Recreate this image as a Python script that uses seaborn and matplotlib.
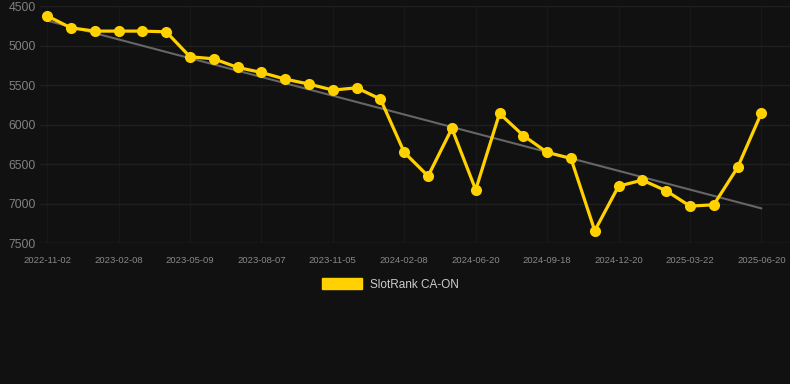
import numpy as np
import pandas as pd
import seaborn as sns
import matplotlib.pyplot as plt
from matplotlib.patches import Patch

# rank values, one per observation (lower is better, axis inverted)
ranks = [4623, 4775, 4816, 4816, 4816, 4825, 5141, 5167, 5276, 5340,
         5424, 5487, 5563, 5534, 5677, 6352, 6652, 6049, 6825, 5859,
         6138, 6352, 6428, 7344, 6779, 6703, 6838, 7032, 7015, 6542,
         5851]
tick_labels = ['2022-11-02', '2023-02-08', '2023-05-09', '2023-08-07', '2023-11-05',
               '2024-02-08', '2024-06-20', '2024-09-18', '2024-12-20', '2025-03-22',
               '2025-06-20']
series_name = 'SlotRank CA-ON'

bg = '#111111'
yellow = '#FFD100'

df = pd.DataFrame({'idx': np.arange(len(ranks)), 'rank': ranks})

# linear trend
coef = np.polyfit(df['idx'], df['rank'], 1)
df['trend'] = np.polyval(coef, df['idx'])

sns.set_style('dark')
plt.rcParams['font.family'] = ['Liberation Sans', 'DejaVu Sans']

fig = plt.figure(figsize=(7.9, 3.84), dpi=100, facecolor=bg)
ax = fig.add_axes([0.0506, 0.367, 0.9494, 0.617], facecolor=bg)

sns.lineplot(data=df, x='idx', y='trend', color='#666666', linewidth=1.5, ax=ax)
sns.lineplot(data=df, x='idx', y='rank', color=yellow, linewidth=2.3,
             marker='o', markersize=8, markeredgewidth=0, ax=ax)

ax.set_ylim(7500, 4500)
ax.set_xlim(-0.3, 31.2)
ax.set_yticks([4500, 5000, 5500, 6000, 6500, 7000, 7500])
ax.set_xticks(np.arange(0, len(ranks), 3))
ax.set_xticklabels(tick_labels)
ax.set_xlabel('')
ax.set_ylabel('')

ax.grid(False)
ax.grid(True, axis='y', color='#1f1f1f', linewidth=1)
ax.grid(True, axis='x', color='#181818', linewidth=1)
for s in ax.spines.values():
    s.set_visible(False)
ax.axhline(7500, color='#2a2a2a', linewidth=1)

ax.tick_params(axis='y', colors='#808080', labelsize=8.8, length=0, pad=3)
ax.tick_params(axis='x', colors='#2a2a2a', labelcolor='#888888', labelsize=6.8,
               length=5, width=1, pad=4)

handles = [Patch(facecolor=yellow, edgecolor=yellow)]
fig.legend(handles, [series_name], loc='center', bbox_to_anchor=(0.494, 0.26),
           frameon=False, fontsize=8.5, labelcolor='#cccccc',
           handlelength=3.4, handleheight=1.1, handletextpad=0.7)

fig.savefig('out.png', dpi=100, facecolor=bg)
